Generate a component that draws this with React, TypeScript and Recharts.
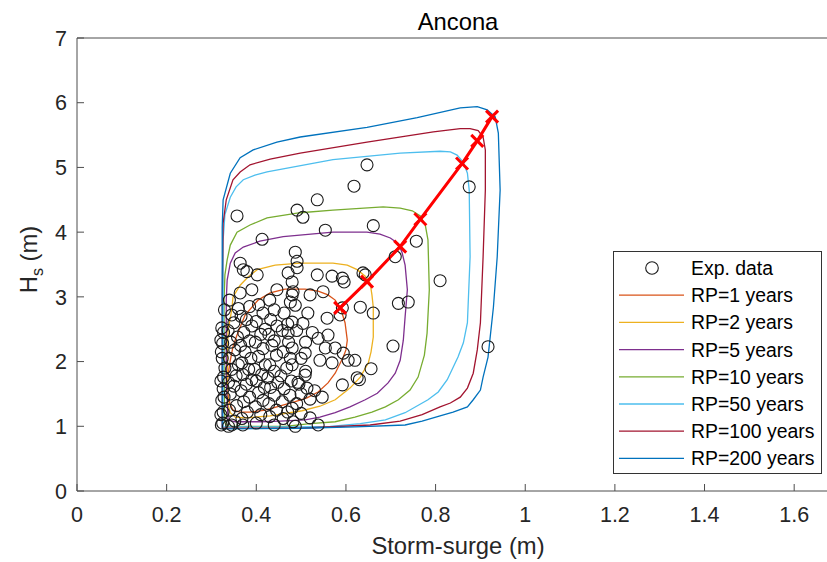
import { ComposedChart, Legend, Line, Scatter, XAxis, YAxis } from 'recharts'

const FONT = '"Liberation Sans", Arial, Helvetica, sans-serif'
const AXIS = '#4d4d4d'
const TEXT = '#262626'

const X_TICKS = [0, 0.2, 0.4, 0.6, 0.8, 1, 1.2, 1.4, 1.6]
const Y_TICKS = [0, 1, 2, 3, 4, 5, 6, 7]

// observed storms: [storm-surge (m), Hs (m)]
const EXP_DATA: [number, number][] = [
  [0.357, 4.25], [0.647, 5.04], [0.618, 4.71], [0.536, 4.5], [0.491, 4.34], [0.504, 4.23],
  [0.554, 4.03], [0.661, 4.1], [0.413, 3.89], [0.757, 3.86], [0.71, 3.62], [0.81, 3.25],
  [0.487, 3.69], [0.491, 3.55], [0.491, 3.45], [0.364, 3.52], [0.371, 3.42], [0.379, 3.39],
  [0.402, 3.34], [0.471, 3.37], [0.536, 3.34], [0.569, 3.32], [0.592, 3.29], [0.596, 3.23],
  [0.638, 3.37], [0.643, 3.34], [0.48, 3.23], [0.39, 3.11], [0.446, 3.11], [0.482, 3.08],
  [0.549, 3.08], [0.364, 3.06], [0.875, 4.7], [0.917, 2.23], [0.632, 2.84], [0.661, 2.75],
  [0.717, 2.9], [0.739, 2.92], [0.705, 2.24], [0.62, 2.02], [0.656, 1.89], [0.63, 1.72],
  [0.592, 2.83], [0.48, 3.03], [0.52, 3.03], [0.487, 2.87], [0.558, 2.67], [0.587, 2.72],
  [0.48, 2.61], [0.504, 2.59], [0.471, 2.44], [0.538, 2.36], [0.56, 2.41], [0.576, 2.21],
  [0.554, 2.21], [0.594, 2.13], [0.605, 2.02], [0.542, 2.02], [0.569, 1.98], [0.48, 2.21],
  [0.509, 2.13], [0.48, 1.95], [0.509, 1.79], [0.493, 1.68], [0.513, 1.59], [0.547, 1.45],
  [0.592, 1.64], [0.625, 1.75], [0.482, 1.07], [0.52, 1.13], [0.538, 1.02], [0.48, 1.28],
  // dense cluster
  [0.322, 1.02], [0.325, 1.05], [0.321, 1.18], [0.326, 1.22], [0.323, 1.4], [0.328, 1.45],
  [0.321, 1.7], [0.327, 1.76], [0.324, 2.05], [0.322, 2.15], [0.325, 2.28], [0.321, 2.33],
  [0.327, 2.45], [0.323, 2.52], [0.329, 2.8], [0.326, 1.58], [0.33, 1.9],
  [0.338, 1.0], [0.345, 1.02], [0.352, 1.08], [0.34, 1.25], [0.356, 1.32], [0.342, 1.5],
  [0.35, 1.62], [0.338, 1.68], [0.355, 1.78], [0.345, 1.88], [0.36, 1.95], [0.34, 2.05],
  [0.352, 2.18], [0.343, 2.3], [0.358, 2.38], [0.337, 2.48], [0.35, 2.6], [0.345, 2.72],
  [0.36, 2.82], [0.34, 2.95],
  [0.368, 1.12], [0.38, 1.22], [0.372, 1.38], [0.385, 1.45], [0.366, 1.55], [0.378, 1.65],
  [0.39, 1.72], [0.37, 1.8], [0.383, 1.88], [0.368, 1.98], [0.388, 2.05], [0.375, 2.15],
  [0.365, 2.25], [0.385, 2.32], [0.372, 2.45], [0.39, 2.55], [0.378, 2.65], [0.366, 2.7],
  [0.385, 2.85], [0.37, 1.02],
  [0.4, 1.05], [0.41, 1.18], [0.398, 1.3], [0.415, 1.4], [0.405, 1.52], [0.418, 1.6],
  [0.4, 1.7], [0.412, 1.8], [0.396, 1.88], [0.42, 1.95], [0.405, 2.08], [0.415, 2.2],
  [0.398, 2.3], [0.41, 2.42], [0.42, 2.5], [0.4, 2.62], [0.415, 2.75], [0.405, 2.88],
  [0.44, 1.02], [0.43, 1.15], [0.445, 1.25], [0.428, 1.35], [0.44, 1.48], [0.432, 1.6],
  [0.448, 1.68], [0.426, 1.75], [0.44, 1.85], [0.43, 1.95], [0.445, 2.1], [0.435, 2.25],
  [0.44, 2.32], [0.428, 2.42], [0.446, 2.55], [0.432, 2.65], [0.44, 2.8], [0.43, 2.95],
  [0.46, 1.12], [0.47, 1.22], [0.458, 1.38], [0.475, 1.48], [0.462, 1.58], [0.478, 1.7],
  [0.455, 1.78], [0.468, 1.9], [0.476, 2.05], [0.46, 2.15], [0.472, 2.3], [0.458, 2.48],
  [0.47, 2.58], [0.462, 2.75], [0.476, 2.92], [0.487, 1.0],
  [0.49, 1.35], [0.5, 1.5], [0.495, 1.65], [0.51, 1.85], [0.5, 2.05], [0.49, 2.48],
  [0.51, 2.3], [0.52, 1.42], [0.53, 1.55], [0.525, 2.45], [0.515, 2.75], [0.5, 1.2]
]

// iso-probability contours, [x, y]
const RP1: [number, number][] = [
  [0.464, 3.12], [0.509, 3.12], [0.538, 3.09], [0.56, 3.03], [0.576, 2.95], [0.589, 2.8],
  [0.598, 2.6], [0.603, 2.33], [0.6, 2.18], [0.594, 2.07], [0.576, 1.82], [0.56, 1.67],
  [0.538, 1.53], [0.513, 1.44], [0.487, 1.38], [0.42, 1.25], [0.386, 1.22], [0.364, 1.22],
  [0.348, 1.25], [0.342, 1.33], [0.337, 1.48], [0.335, 1.59], [0.337, 1.79], [0.342, 2.02],
  [0.348, 2.23], [0.357, 2.41], [0.375, 2.72], [0.404, 2.95], [0.431, 3.06], [0.464, 3.12]
]
const RP2: [number, number][] = [
  [0.348, 3.0], [0.364, 3.18], [0.382, 3.31], [0.402, 3.42], [0.442, 3.49], [0.498, 3.52],
  [0.571, 3.52], [0.603, 3.49], [0.625, 3.42], [0.643, 3.32], [0.654, 3.21], [0.658, 3.03],
  [0.661, 2.84], [0.661, 2.38], [0.656, 2.15], [0.65, 1.98], [0.632, 1.76], [0.609, 1.59],
  [0.576, 1.41], [0.542, 1.31], [0.502, 1.24], [0.431, 1.16], [0.375, 1.13], [0.353, 1.14],
  [0.342, 1.21], [0.337, 1.33], [0.335, 1.76], [0.337, 2.49], [0.342, 2.67], [0.346, 2.84],
  [0.348, 3.0]
]
const RP5: [number, number][] = [
  [0.335, 1.41], [0.333, 1.72], [0.333, 2.95], [0.335, 3.26], [0.342, 3.52], [0.353, 3.68],
  [0.371, 3.77], [0.408, 3.86], [0.46, 3.93], [0.571, 4.0], [0.647, 4.0], [0.676, 3.97],
  [0.699, 3.91], [0.717, 3.82], [0.725, 3.69], [0.732, 3.49], [0.737, 3.11], [0.732, 2.69],
  [0.728, 2.33], [0.721, 2.02], [0.71, 1.82], [0.694, 1.67], [0.67, 1.51], [0.643, 1.41],
  [0.609, 1.3], [0.576, 1.21], [0.542, 1.14], [0.509, 1.1], [0.453, 1.08], [0.408, 1.07],
  [0.353, 1.07], [0.337, 1.1], [0.335, 1.41]
]
const RP10: [number, number][] = [
  [0.33, 1.05], [0.328, 1.72], [0.328, 2.95], [0.33, 3.34], [0.335, 3.57], [0.342, 3.8],
  [0.357, 4.0], [0.386, 4.11], [0.424, 4.22], [0.498, 4.3], [0.571, 4.34], [0.683, 4.39],
  [0.721, 4.37], [0.748, 4.33], [0.766, 4.25], [0.777, 4.11], [0.783, 3.88], [0.786, 3.11],
  [0.781, 2.44], [0.775, 2.1], [0.761, 1.76], [0.743, 1.56], [0.717, 1.41], [0.688, 1.3],
  [0.658, 1.22], [0.62, 1.14], [0.576, 1.07], [0.52, 1.04], [0.464, 1.0], [0.364, 1.0],
  [0.337, 1.0], [0.33, 1.05]
]
const RP50: [number, number][] = [
  [0.326, 0.99], [0.326, 2.95], [0.326, 3.88], [0.33, 4.27], [0.342, 4.54], [0.355, 4.7],
  [0.371, 4.81], [0.397, 4.88], [0.424, 4.93], [0.571, 5.12], [0.721, 5.22], [0.81, 5.25],
  [0.833, 5.24], [0.848, 5.19], [0.862, 5.08], [0.871, 4.91], [0.875, 4.65], [0.877, 3.62],
  [0.871, 2.6], [0.862, 2.29], [0.85, 2.07], [0.826, 1.72], [0.806, 1.53], [0.783, 1.41],
  [0.732, 1.21], [0.688, 1.1], [0.632, 1.04], [0.565, 1.0], [0.498, 0.99], [0.326, 0.99]
]
const RP100: [number, number][] = [
  [0.324, 0.97], [0.324, 2.95], [0.326, 4.14], [0.333, 4.5], [0.348, 4.81], [0.364, 4.93],
  [0.386, 5.04], [0.431, 5.13], [0.498, 5.22], [0.647, 5.39], [0.795, 5.55], [0.855, 5.6],
  [0.877, 5.6], [0.895, 5.57], [0.906, 5.47], [0.911, 5.27], [0.911, 4.65], [0.906, 3.62],
  [0.9, 2.6], [0.893, 2.18], [0.884, 1.82], [0.871, 1.59], [0.855, 1.45], [0.833, 1.36],
  [0.81, 1.3], [0.77, 1.18], [0.721, 1.08], [0.654, 1.02], [0.498, 0.97], [0.324, 0.97]
]
const RP200: [number, number][] = [
  [0.324, 0.96], [0.324, 2.95], [0.324, 4.08], [0.326, 4.5], [0.342, 4.91], [0.364, 5.15],
  [0.393, 5.27], [0.446, 5.39], [0.498, 5.47], [0.647, 5.62], [0.759, 5.77], [0.855, 5.92],
  [0.893, 5.94], [0.915, 5.89], [0.933, 5.78], [0.94, 5.53], [0.944, 4.65], [0.9375, 3.62],
  [0.929, 2.84], [0.917, 2.07], [0.906, 1.76], [0.9, 1.56], [0.884, 1.41], [0.871, 1.3],
  [0.839, 1.22], [0.81, 1.16], [0.77, 1.08], [0.732, 1.02], [0.62, 0.99], [0.498, 0.97],
  [0.324, 0.96]
]

const RP_CURVES = [RP1, RP2, RP5, RP10, RP50, RP100, RP200]
const RP_LABELS = ['RP=1 years', 'RP=2 years', 'RP=5 years', 'RP=10 years', 'RP=50 years', 'RP=100 years', 'RP=200 years']
const RP_COLORS = ['#D95319', '#EDB120', '#7E2F8E', '#77AC30', '#4DBEEE', '#A2142F', '#0072BD']

// design events (one per return period)
const DESIGN_X = [0.587, 0.647, 0.721, 0.766, 0.859, 0.893, 0.926]
const DESIGN_Y = [2.83, 3.235, 3.776, 4.2, 5.06, 5.41, 5.785]

const toPts = (arr: [number, number][]) => arr.map(([x, y]) => ({ x, y }))

function BottomTick(props: any) {
  const { x, y, payload } = props
  return (
    <g>
      <line x1={x} x2={x} y1={y} y2={y - 7} stroke={AXIS} strokeWidth={1} />
      <text x={x} y={y + 31} textAnchor="middle" fontSize={21.5} fill={TEXT} fontFamily={FONT}>
        {String(payload.value)}
      </text>
    </g>
  )
}

function TopTick(props: any) {
  const { x, y } = props
  return <line x1={x} x2={x} y1={y} y2={y + 7} stroke={AXIS} strokeWidth={1} />
}

function LeftTick(props: any) {
  const { x, y, payload } = props
  return (
    <g>
      <line x1={x} x2={x + 7} y1={y} y2={y} stroke={AXIS} strokeWidth={1} />
      <text x={x - 10} y={y + 7.7} textAnchor="end" fontSize={21.5} fill={TEXT} fontFamily={FONT}>
        {String(payload.value)}
      </text>
    </g>
  )
}

function XMark(props: any) {
  const { cx, cy } = props
  const s = 6
  return (
    <g>
      <line x1={cx - s} y1={cy - s} x2={cx + s} y2={cy + s} stroke="#FF0000" strokeWidth={3} />
      <line x1={cx - s} y1={cy + s} x2={cx + s} y2={cy - s} stroke="#FF0000" strokeWidth={3} />
    </g>
  )
}

function LegendBox() {
  const rowH = 27.2
  const y0 = 17
  return (
    <svg width={209} height={223} style={{ display: 'block' }}>
      <rect x={0.5} y={0.5} width={208} height={222} fill="#fff" stroke="#333" strokeWidth={1} />
      <circle cx={39} cy={y0} r={6.3} fill="none" stroke="#1a1a1a" strokeWidth={1.1} />
      <text x={78} y={y0 + 7} fontSize={19.4} fill="#000" fontFamily={FONT}>Exp. data</text>
      {RP_LABELS.map((label, i) => {
        const cy = y0 + rowH * (i + 1)
        return (
          <g key={label}>
            <line x1={6} x2={71} y1={cy} y2={cy} stroke={RP_COLORS[i]} strokeWidth={1.3} />
            <text x={78} y={cy + 7} fontSize={19.4} fill="#000" fontFamily={FONT}>{label}</text>
          </g>
        )
      })}
    </svg>
  )
}

export default function App() {
  const expPts = toPts(EXP_DATA)
  const design = DESIGN_X.map((x, i) => ({ x, y: DESIGN_Y[i] }))

  return (
    <div style={{ position: 'absolute', left: 0, top: 0, width: 827, height: 562, overflow: 'hidden', background: '#fff' }}>
      <ComposedChart width={860} height={562} margin={{ top: 8, right: 21, bottom: 0, left: 0 }}>
        <XAxis
          xAxisId="top"
          orientation="top"
          type="number"
          dataKey="x"
          domain={[0, 1.7]}
          ticks={X_TICKS}
          height={30}
          tickSize={0}
          tickMargin={0}
          tick={<TopTick />}
          axisLine={{ stroke: AXIS, strokeWidth: 1 }}
          label={{
            content: (p: any) => (
              <text
                x={p.viewBox.x + p.viewBox.width / 2}
                y={30}
                textAnchor="middle"
                fontSize={23.8}
                fill="#000"
                fontFamily={FONT}
              >
                Ancona
              </text>
            )
          }}
        />
        <XAxis
          type="number"
          dataKey="x"
          domain={[0, 1.7]}
          ticks={X_TICKS}
          height={71}
          tickSize={0}
          tickMargin={0}
          tick={<BottomTick />}
          axisLine={{ stroke: AXIS, strokeWidth: 1 }}
          label={{
            content: (p: any) => (
              <text
                x={p.viewBox.x + p.viewBox.width / 2}
                y={p.viewBox.y + 63}
                textAnchor="middle"
                fontSize={23.8}
                fill={TEXT}
                fontFamily={FONT}
              >
                Storm-surge (m)
              </text>
            )
          }}
        />
        <YAxis
          type="number"
          dataKey="y"
          domain={[0, 7]}
          ticks={Y_TICKS}
          width={77}
          tickSize={0}
          tickMargin={0}
          tick={<LeftTick />}
          axisLine={{ stroke: AXIS, strokeWidth: 1 }}
          label={{
            content: (p: any) => {
              const cy = p.viewBox.y + p.viewBox.height / 2 - 5
              return (
                <text
                  x={37}
                  y={cy}
                  transform={`rotate(-90, 37, ${cy})`}
                  textAnchor="middle"
                  fontSize={23.8}
                  fill={TEXT}
                  fontFamily={FONT}
                >
                  <tspan>H</tspan>
                  <tspan fontSize={16} dy={6}>s</tspan>
                  <tspan dy={-6}> (m)</tspan>
                </text>
              )
            }
          }}
        />
        <Legend
          layout="vertical"
          align="center"
          verticalAlign="middle"
          wrapperStyle={{ left: 613, top: 251, width: 209, height: 223 }}
          content={() => <LegendBox />}
        />
        <Scatter
          name="Exp. data"
          data={expPts}
          isAnimationActive={false}
          shape={(p: any) => (
            <circle cx={p.cx} cy={p.cy} r={6} fill="none" stroke="#1a1a1a" strokeWidth={1.1} />
          )}
        />
        {RP_CURVES.map((curve, i) => (
          <Line
            key={RP_LABELS[i]}
            name={RP_LABELS[i]}
            data={toPts(curve)}
            dataKey="y"
            type="linear"
            stroke={RP_COLORS[i]}
            strokeWidth={1.3}
            dot={false}
            activeDot={false}
            isAnimationActive={false}
          />
        ))}
        <Line
          name="design"
          data={design}
          dataKey="y"
          type="linear"
          stroke="#FF0000"
          strokeWidth={3}
          dot={(p: any) => <XMark key={`d${p.index}`} cx={p.cx} cy={p.cy} />}
          activeDot={false}
          isAnimationActive={false}
        />
      </ComposedChart>
    </div>
  )
}
